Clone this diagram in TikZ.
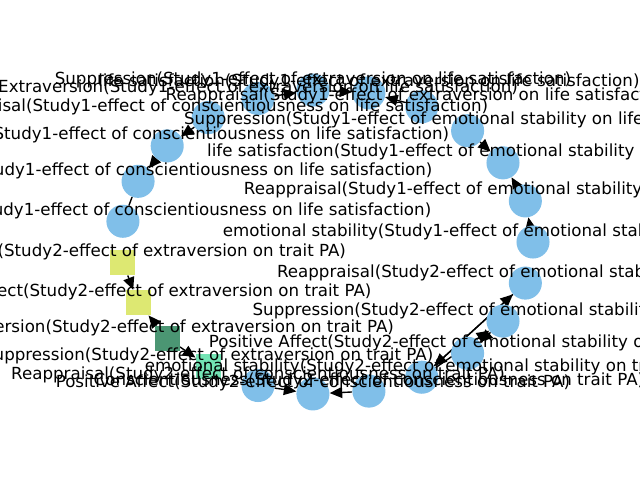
\documentclass[tikz,border=0pt]{standalone}
\usepackage{fontspec}
\setmainfont{DejaVu Sans}
\usetikzlibrary{arrows.meta,backgrounds}
\definecolor{nodeblue}{RGB}{128,191,233}
\definecolor{sqyellow}{RGB}{221,232,114}
\definecolor{sqdark}{RGB}{75,150,115}
\definecolor{sqlight}{RGB}{115,228,180}

\begin{document}
\begin{tikzpicture}[x=0.72pt,y=-0.72pt,
	circ/.style={circle,fill=nodeblue,minimum size=23.8pt,inner sep=0pt},
	sqyel/.style={rectangle,fill=sqyellow,minimum size=18pt,inner sep=0pt},
	sqdrk/.style={rectangle,fill=sqdark,minimum size=18pt,inner sep=0pt},
	sqlgt/.style={rectangle,fill=sqlight,minimum size=18pt,inner sep=0pt},
	lbl/.style={font=\fontsize{12}{14}\selectfont,inner sep=0pt},
	link/.style={-{Triangle[length=9pt,width=8pt]},line width=1pt}]
			\useasboundingbox (0,0) rectangle (640,480);
			\clip (0,0) rectangle (640,480);
			
			% Nodes on the circular layout
			\foreach \i/\s in {0/circ,1/circ,2/circ,3/circ,4/circ,5/circ,6/circ,7/circ,
				8/circ,9/circ,10/circ,11/circ,12/sqyel,13/sqyel,14/sqdrk,15/sqlgt,
				16/circ,17/circ,18/circ,19/circ,20/circ,21/circ,22/circ} {
				\node[\s] (n\i) at ({327+206*cos(\i*360/23)},{242-152.3*sin(\i*360/23)}) {};
			}
			
			% Edges, under the nodes
			\begin{scope}[on background layer]
				\foreach \a/\b in {7/6,6/5,4/5,3/2,1/2,0/1,8/9,9/10,12/13,14/13,14/15,
					16/17,18/17,19/22,22/19,19/21,21/20} {
					\draw[link] (n\a) -- (n\b);
				}
				\draw[line width=1pt] (n11) -- (n10);
			\end{scope}
			
			% Labels, a little above each node
			\foreach \i/\t in {
				0/emotional stability(Study1-effect of emotional stability on life satisfaction),
				1/Reappraisal(Study1-effect of emotional stability on life satisfaction),
				2/life satisfaction(Study1-effect of emotional stability on life satisfaction),
				3/Suppression(Study1-effect of emotional stability on life satisfaction),
				4/Reappraisal(Study1-effect of extraversion on life satisfaction),
				5/life satisfaction(Study1-effect of extraversion on life satisfaction),
				6/Suppression(Study1-effect of extraversion on life satisfaction),
				7/Extraversion(Study1-effect of extraversion on life satisfaction),
				8/Reappraisal(Study1-effect of conscientiousness on life satisfaction),
				9/Suppression(Study1-effect of conscientiousness on life satisfaction),
				10/life satisfaction(Study1-effect of conscientiousness on life satisfaction),
				11/Conscientiousness(Study1-effect of conscientiousness on life satisfaction),
				12/Reappraisal(Study2-effect of extraversion on trait PA),
				13/Positive Affect(Study2-effect of extraversion on trait PA),
				14/Extraversion(Study2-effect of extraversion on trait PA),
				15/Suppression(Study2-effect of extraversion on trait PA),
				16/Reappraisal(Study2-effect of conscientiousness on trait PA),
				17/Positive Affect(Study2-effect of conscientiousness on trait PA),
				18/Conscientiousness(Study2-effect of conscientiousness on trait PA),
				19/emotional stability(Study2-effect of emotional stability on trait PA),
				20/Positive Affect(Study2-effect of emotional stability on trait PA),
				21/Suppression(Study2-effect of emotional stability on trait PA),
				22/Reappraisal(Study2-effect of emotional stability on trait PA)} {
				\node[lbl] (l\i) at ([yshift=7.6pt]n\i.center) {\t};
			}
		\end{tikzpicture}
\end{document}
